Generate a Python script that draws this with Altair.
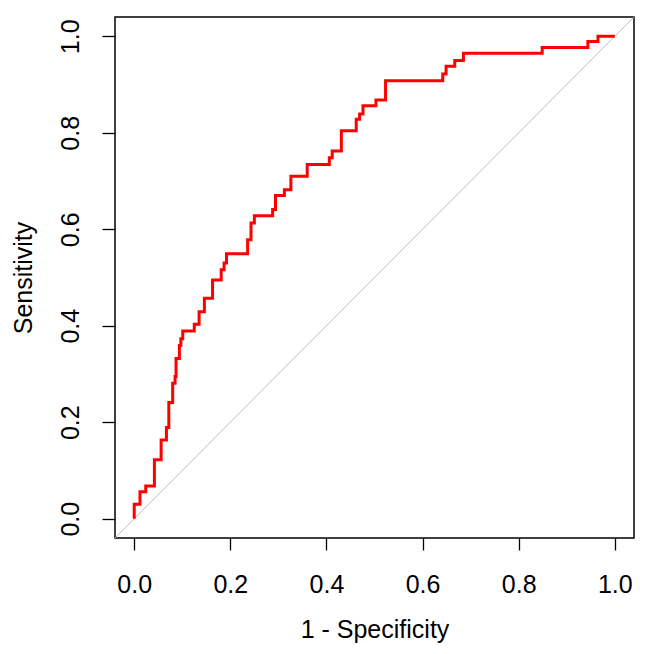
import altair as alt
import pandas as pd

# ROC curve vertices (1 - specificity, sensitivity)
fpr = [0.000, 0.000, 0.012, 0.012, 0.024, 0.024, 0.042, 0.042, 0.056, 0.056,
       0.067, 0.067, 0.072, 0.072, 0.080, 0.080, 0.085, 0.085, 0.087, 0.087,
       0.094, 0.094, 0.097, 0.097, 0.101, 0.101, 0.125, 0.125, 0.135, 0.135,
       0.146, 0.146, 0.163, 0.163, 0.181, 0.181, 0.187, 0.187, 0.192, 0.192,
       0.236, 0.236, 0.243, 0.243, 0.250, 0.250, 0.288, 0.288, 0.294, 0.294,
       0.3125, 0.3125, 0.326, 0.326, 0.360, 0.360, 0.406, 0.406, 0.412, 0.412,
       0.431, 0.431, 0.462, 0.462, 0.469, 0.469, 0.476, 0.476, 0.503, 0.503,
       0.523, 0.523, 0.642, 0.642, 0.649, 0.649, 0.667, 0.667, 0.685, 0.685,
       0.849, 0.849, 0.944, 0.944, 0.965, 0.965, 1.000]
tpr = [0.000, 0.030, 0.030, 0.056, 0.056, 0.068, 0.068, 0.122, 0.122, 0.163,
       0.163, 0.189, 0.189, 0.241, 0.241, 0.281, 0.281, 0.295, 0.295, 0.332,
       0.332, 0.359, 0.359, 0.373, 0.373, 0.389, 0.389, 0.403, 0.403, 0.429,
       0.429, 0.457, 0.457, 0.495, 0.495, 0.516, 0.516, 0.530, 0.530, 0.549,
       0.549, 0.578, 0.578, 0.613, 0.613, 0.628, 0.628, 0.641, 0.641, 0.670,
       0.670, 0.682, 0.682, 0.710, 0.710, 0.734, 0.734, 0.748, 0.748, 0.762,
       0.762, 0.804, 0.804, 0.828, 0.828, 0.839, 0.839, 0.856, 0.856, 0.868,
       0.868, 0.908, 0.908, 0.922, 0.922, 0.938, 0.938, 0.950, 0.950, 0.965,
       0.965, 0.977, 0.977, 0.989, 0.989, 1.000, 1.000]

diag_vals = [-0.04, 1.04]
tick_vals = [0.0, 0.2, 0.4, 0.6, 0.8, 1.0]

roc = pd.DataFrame({"fpr": fpr, "tpr": tpr, "order": list(range(len(fpr)))})
diag = pd.DataFrame({"x": diag_vals, "y": diag_vals})

FONT = "Liberation Sans"
dom = [-0.04, 1.04]

xscale = alt.Scale(domain=dom, nice=False, zero=False)
yscale = alt.Scale(domain=dom, nice=False, zero=False)

xaxis = alt.Axis(values=tick_vals, format=".1f", title="1 - Specificity",
                 grid=False, domain=False, tickSize=12, tickColor="black",
                 tickWidth=1.3, labelFont=FONT, labelFontSize=25,
                 labelColor="black", labelPadding=22, titleFont=FONT,
                 titleFontSize=25, titleFontWeight="normal", titleColor="black",
                 titlePadding=20)
yaxis = alt.Axis(values=tick_vals, format=".1f", title="Sensitivity",
                 grid=False, domain=False, tickSize=13, tickColor="black",
                 tickWidth=1.3, labelFont=FONT, labelFontSize=25,
                 labelColor="black", labelAngle=270, labelAlign="center",
                 labelBaseline="bottom", labelPadding=19, titleFont=FONT,
                 titleFontSize=25, titleFontWeight="normal", titleColor="black",
                 titlePadding=22)

diag_line = alt.Chart(diag).mark_line(color="#bebebe", strokeWidth=1, clip=True).encode(
    x=alt.X("x:Q", scale=xscale, axis=xaxis),
    y=alt.Y("y:Q", scale=yscale, axis=yaxis),
)

roc_line = alt.Chart(roc).mark_line(color="#ff0000", strokeWidth=3, clip=True).encode(
    x=alt.X("fpr:Q", scale=xscale),
    y=alt.Y("tpr:Q", scale=yscale),
    order="order:Q",
)

chart = alt.layer(diag_line, roc_line).properties(
    width=519, height=521,
    autosize=alt.AutoSizeParams(type="none"),
    padding={"left": 115, "top": 17, "right": 15, "bottom": 116},
    background="white",
).configure_view(stroke="black", strokeWidth=1.5)

chart.save("out.html", embed_options={"renderer": "svg", "actions": False})
